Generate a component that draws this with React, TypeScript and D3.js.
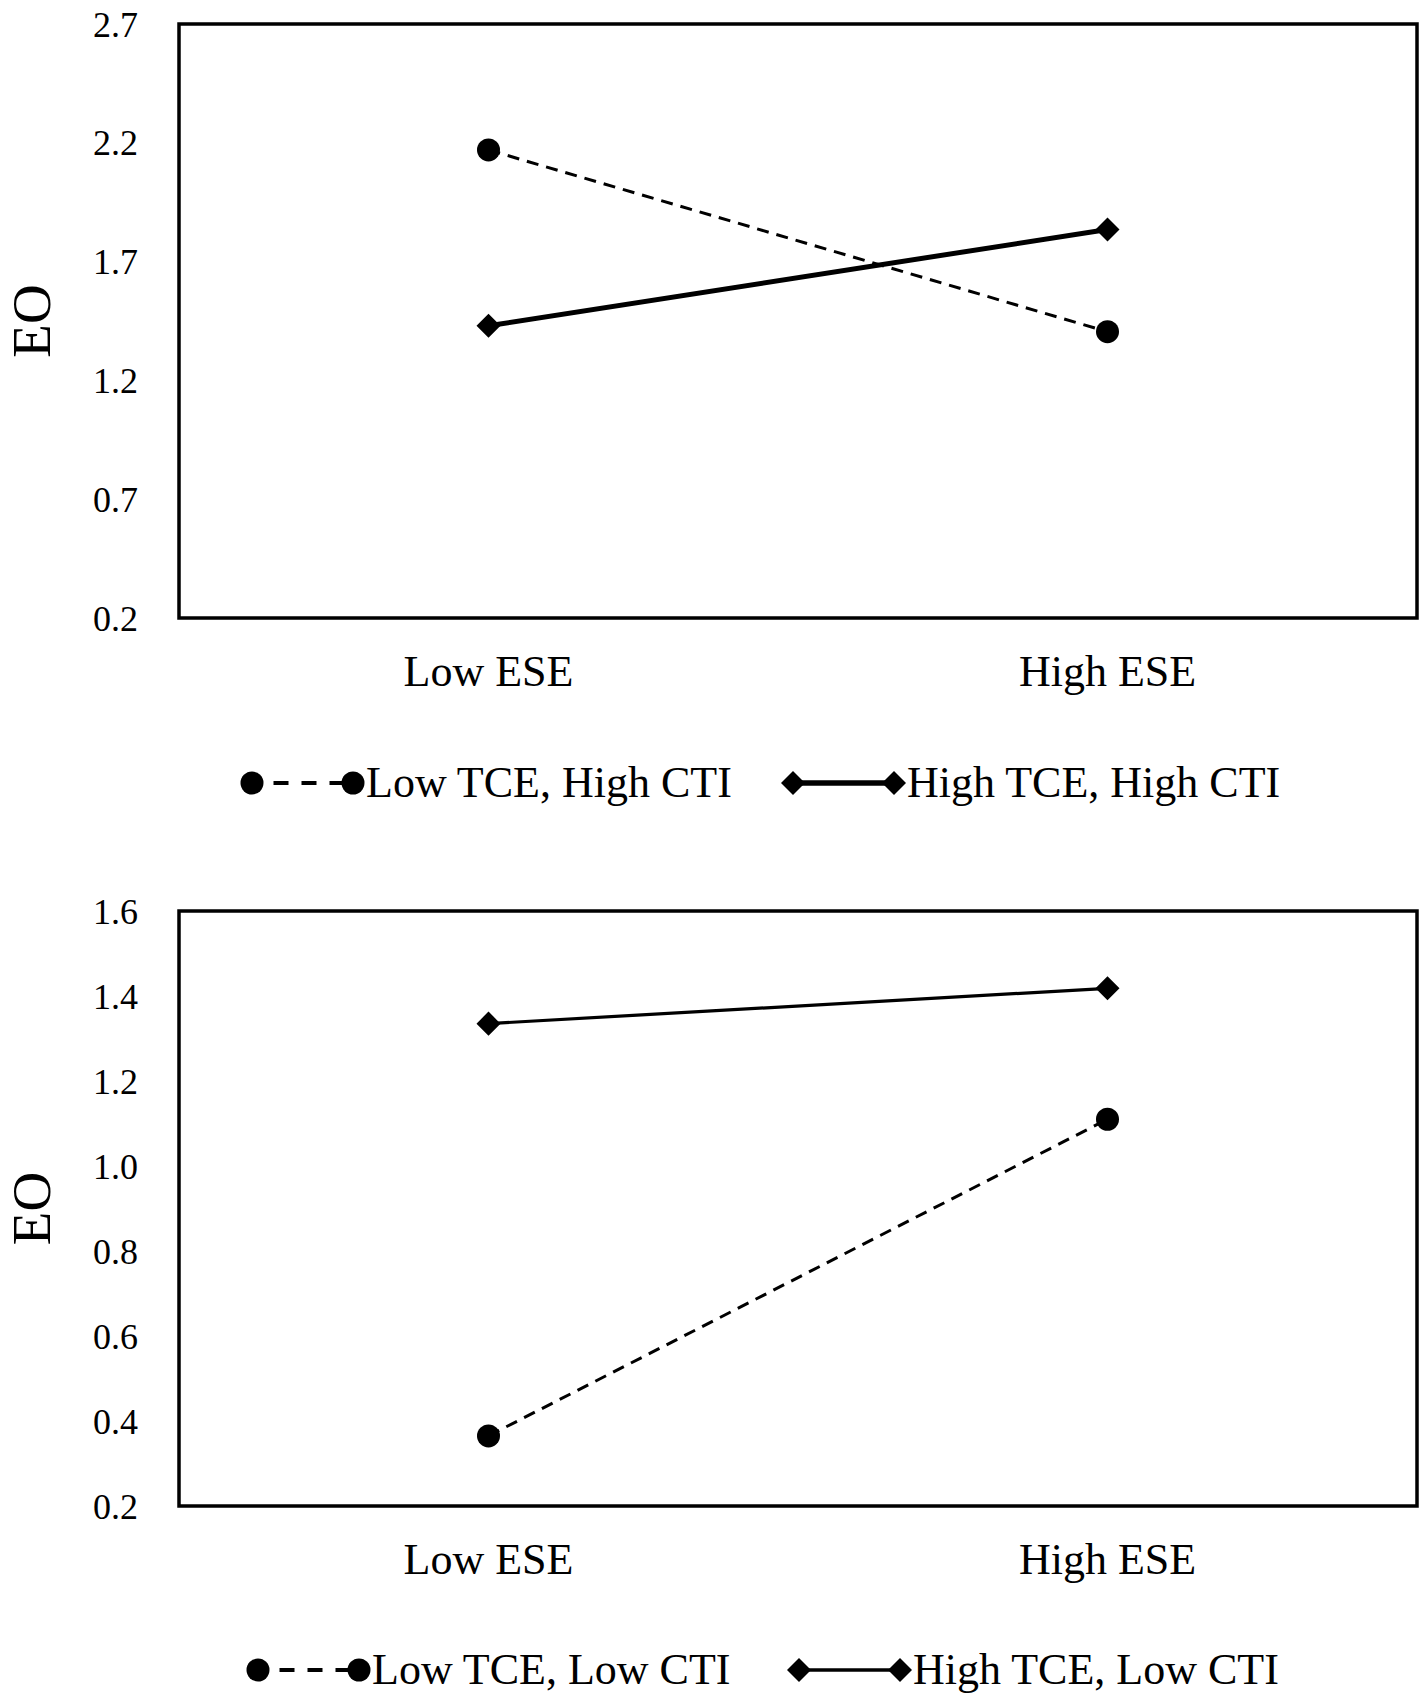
import React from "react";
import * as d3 from "d3";

// categories and series values
const categories = ["Low ESE", "High ESE"];

const topTicks = [0.2, 0.7, 1.2, 1.7, 2.2, 2.7];
const lowTceHighCti = [2.17, 1.405];
const highTceHighCti = [1.43, 1.835];

const bottomTicks = [0.2, 0.4, 0.6, 0.8, 1.0, 1.2, 1.4, 1.6];
const lowTceLowCti = [0.365, 1.11];
const highTceLowCti = [1.335, 1.418];

const W = 1421;
const H = 1700;
const FONT = "'Liberation Serif', 'Times New Roman', serif";

const left = 179;
const right = 1417;

const x = d3.scalePoint<string>().domain(categories).range([left, right]).padding(0.5);

const circlePath = d3.symbol().type(d3.symbolCircle).size(Math.PI * 11.5 * 11.5)()!;
const diamondPath = d3.symbol().type(d3.symbolSquare).size(17 * 17)()!;

const Marker = ({ kind, cx, cy }: { kind: string; cx: number; cy: number }) =>
  kind === "circle" ? (
    <path d={circlePath} transform={`translate(${cx},${cy})`} fill="#000" />
  ) : (
    <path d={diamondPath} transform={`translate(${cx},${cy}) rotate(45)`} fill="#000" />
  );

type Series = { name: string; values: number[]; kind: string; dashed: boolean; width: number };

const Panel = ({
  top,
  bottom,
  ticks,
  fmt,
  series,
  legendY,
  legendX,
}: {
  top: number;
  bottom: number;
  ticks: number[];
  fmt: (v: number) => string;
  series: Series[];
  legendY: number;
  legendX: number[];
}) => {
  const y = d3.scaleLinear().domain([ticks[0], ticks[ticks.length - 1]]).range([bottom, top]);
  const line = d3
    .line<number>()
    .x((_, i) => x(categories[i])!)
    .y((v) => y(v));

  return (
    <g>
      {/* y title */}
      <text
        transform={`translate(50,${(top + bottom) / 2}) rotate(-90)`}
        textAnchor="middle"
        fontSize={55}
        fontFamily={FONT}
      >
        EO
      </text>

      {/* tick labels */}
      {ticks.map((t) => (
        <text
          key={t}
          x={138}
          y={y(t)}
          dy="0.35em"
          textAnchor="end"
          fontSize={36}
          fontFamily={FONT}
        >
          {fmt(t)}
        </text>
      ))}

      {/* plot frame */}
      <rect
        x={left}
        y={top}
        width={right - left}
        height={bottom - top}
        fill="none"
        stroke="#000"
        strokeWidth={3.5}
      />

      {/* category labels */}
      {categories.map((c) => (
        <text
          key={c}
          x={x(c)}
          y={bottom + 68}
          textAnchor="middle"
          fontSize={44}
          fontFamily={FONT}
        >
          {c}
        </text>
      ))}

      {/* series */}
      {series.map((s) => (
        <g key={s.name}>
          <path
            d={line(s.values)!}
            fill="none"
            stroke="#000"
            strokeWidth={s.width}
            strokeDasharray={s.dashed ? "12,8" : undefined}
          />
          {s.values.map((v, i) => (
            <Marker key={i} kind={s.kind} cx={x(categories[i])!} cy={y(v)} />
          ))}
        </g>
      ))}

      {/* legend */}
      {series.map((s, i) => {
        const lx = legendX[i];
        return (
          <g key={s.name}>
            <line
              x1={lx}
              x2={lx + 101}
              y1={legendY}
              y2={legendY}
              stroke="#000"
              strokeWidth={s.dashed ? 3.8 : s.width + 0.5}
              strokeDasharray={s.dashed ? "15,13" : undefined}
              strokeDashoffset={s.dashed ? 6.5 : undefined}
            />
            <Marker kind={s.kind} cx={lx} cy={legendY} />
            <Marker kind={s.kind} cx={lx + 101} cy={legendY} />
            <text x={lx + 114} y={legendY + 14} fontSize={44} fontFamily={FONT}>
              {s.name}
            </text>
          </g>
        );
      })}
    </g>
  );
};

export default function App() {
  const fmt = d3.format(".1f");
  return (
    <svg
      width={W}
      height={H}
      viewBox={`0 0 ${W} ${H}`}
      style={{ position: "absolute", left: 0, top: 0, background: "#fff" }}
    >
      <rect width={W} height={H} fill="#fff" />
      <Panel
        top={24}
        bottom={618}
        ticks={topTicks}
        fmt={fmt}
        legendY={783}
        legendX={[252, 793]}
        series={[
          { name: "Low TCE, High CTI", values: lowTceHighCti, kind: "circle", dashed: true, width: 3 },
          { name: "High TCE, High CTI", values: highTceHighCti, kind: "diamond", dashed: false, width: 5 },
        ]}
      />
      <Panel
        top={911}
        bottom={1506}
        ticks={bottomTicks}
        fmt={fmt}
        legendY={1670}
        legendX={[258, 799]}
        series={[
          { name: "Low TCE, Low CTI", values: lowTceLowCti, kind: "circle", dashed: true, width: 3 },
          { name: "High TCE, Low CTI", values: highTceLowCti, kind: "diamond", dashed: false, width: 3.2 },
        ]}
      />
    </svg>
  );
}
